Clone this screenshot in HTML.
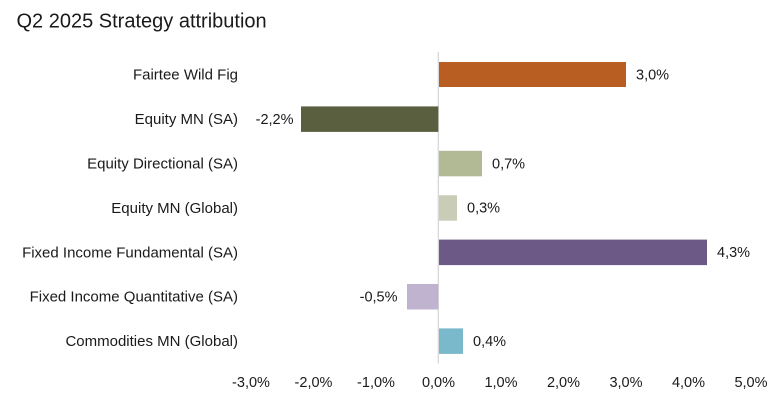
<!DOCTYPE html>
<html>
<head>
<meta charset="utf-8">
<style>
  html, body { margin: 0; padding: 0; background: #ffffff; }
  body { width: 779px; height: 401px; overflow: hidden; }
  svg { display: block; }
  text { font-family: "Liberation Sans", Arial, Helvetica, sans-serif; fill: #1a1a1a; }
  .cat { font-size: 15px; text-anchor: end; }
  .val { font-size: 14.5px; }
  .tick { font-size: 14.5px; text-anchor: middle; }
</style>
</head>
<body>
<svg width="779" height="401" viewBox="0 0 779 401" xmlns="http://www.w3.org/2000/svg">
  <rect x="0" y="0" width="779" height="401" fill="#ffffff"/>
  <text x="16.5" y="27.5" style="font-size:20px">Q2 2025 Strategy attribution</text>

  <!-- zero axis -->
  <line x1="438.3" y1="52" x2="438.3" y2="363.5" stroke="#d4d4d4" stroke-width="1.2"/>

  <!-- bars -->
  <rect x="439" y="62" width="187" height="25" fill="#B95E22"/>
  <rect x="301" y="106.4" width="137.3" height="25.5" fill="#5A603F"/>
  <rect x="439" y="150.8" width="43" height="25.5" fill="#B1B995"/>
  <rect x="439" y="195.2" width="18" height="25.5" fill="#C9CDB7"/>
  <rect x="439" y="239.6" width="268" height="25.5" fill="#6C5985"/>
  <rect x="407" y="284" width="31.3" height="25.5" fill="#C0B3CF"/>
  <rect x="439" y="328.4" width="24" height="25.5" fill="#7AB8CC"/>

  <!-- category labels -->
  <text class="cat" x="238" y="79.7">Fairtee Wild Fig</text>
  <text class="cat" x="238" y="124.1">Equity MN (SA)</text>
  <text class="cat" x="238" y="168.5">Equity Directional (SA)</text>
  <text class="cat" x="238" y="212.9">Equity MN (Global)</text>
  <text class="cat" x="238" y="257.3">Fixed Income Fundamental (SA)</text>
  <text class="cat" x="238" y="301.7">Fixed Income Quantitative (SA)</text>
  <text class="cat" x="238" y="346.1">Commodities MN (Global)</text>

  <!-- value labels -->
  <text class="val" x="636" y="79.5">3,0%</text>
  <text class="val" x="293.5" y="123.9" text-anchor="end">-2,2%</text>
  <text class="val" x="492" y="168.3">0,7%</text>
  <text class="val" x="467" y="212.7">0,3%</text>
  <text class="val" x="717" y="257.1">4,3%</text>
  <text class="val" x="397.5" y="301.5" text-anchor="end">-0,5%</text>
  <text class="val" x="473" y="345.9">0,4%</text>

  <!-- x-axis tick labels -->
  <text class="tick" x="251" y="387">-3,0%</text>
  <text class="tick" x="313.5" y="387">-2,0%</text>
  <text class="tick" x="376" y="387">-1,0%</text>
  <text class="tick" x="438.5" y="387">0,0%</text>
  <text class="tick" x="501" y="387">1,0%</text>
  <text class="tick" x="563.5" y="387">2,0%</text>
  <text class="tick" x="626" y="387">3,0%</text>
  <text class="tick" x="688.5" y="387">4,0%</text>
  <text class="tick" x="751" y="387">5,0%</text>
</svg>
</body>
</html>
